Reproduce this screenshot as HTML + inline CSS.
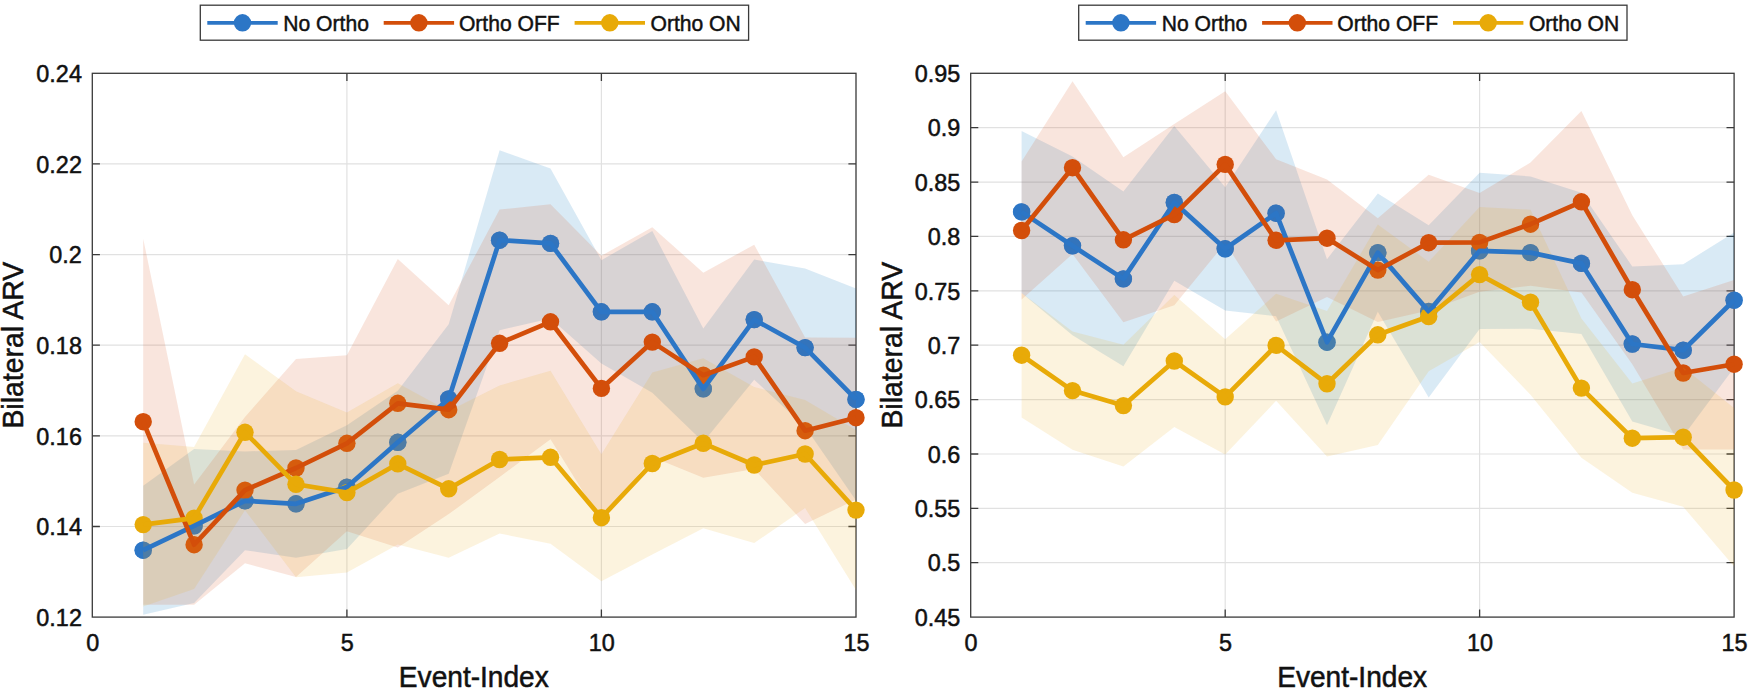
<!DOCTYPE html>
<html lang="en">
<head>
<meta charset="utf-8">
<title>Bilateral ARV vs Event-Index</title>
<style>
html,body{margin:0;padding:0;background:#fff;}
body{width:1752px;height:691px;overflow:hidden;}
svg{display:block;font-family:"Liberation Sans",Arial,Helvetica,sans-serif;}
</style>
</head>
<body>
<svg width="1752" height="691" viewBox="0 0 1752 691">
<rect width="1752" height="691" fill="#fff"/>
<path d="M346.9 73.3V617.1M601.4 73.3V617.1M92.3 163.9H856M92.3 254.6H856M92.3 345.2H856M92.3 435.8H856M92.3 526.5H856" stroke="#e1e1e1" stroke-width="1.2" fill="none"/>
<rect x="92.3" y="73.3" width="763.7" height="543.8" fill="none" stroke="#3a3a3a" stroke-width="1.3"/>
<path d="M346.9 617.1v-7.6M346.9 73.3v7.6M601.4 617.1v-7.6M601.4 73.3v7.6M92.3 163.9h7.6M856 163.9h-7.6M92.3 254.6h7.6M856 254.6h-7.6M92.3 345.2h7.6M856 345.2h-7.6M92.3 435.8h7.6M856 435.8h-7.6M92.3 526.5h7.6M856 526.5h-7.6" stroke="#3a3a3a" stroke-width="1.3" fill="none"/>
<g fill="#2c76c6"><circle cx="143.2" cy="550.2" r="8.7"/><circle cx="194.1" cy="525.9" r="8.7"/><circle cx="245" cy="500.8" r="8.7"/><circle cx="296" cy="503.8" r="8.7"/><circle cx="346.9" cy="487.1" r="8.7"/><circle cx="397.8" cy="442.3" r="8.7"/><circle cx="448.7" cy="399" r="8.7"/><circle cx="499.6" cy="240.2" r="8.7"/><circle cx="550.5" cy="243.4" r="8.7"/><circle cx="601.4" cy="311.8" r="8.7"/><circle cx="652.3" cy="311.8" r="8.7"/><circle cx="703.3" cy="388.9" r="8.7"/><circle cx="754.2" cy="319.6" r="8.7"/><circle cx="805.1" cy="347.6" r="8.7"/><circle cx="856" cy="399.4" r="8.7"/></g>
<polygon points="143.2 485.7 194.1 448.9 245 451.4 296 449.9 346.9 425.3 397.8 390.8 448.7 324.2 499.6 150.2 550.5 168.4 601.4 260.2 652.3 230.9 703.3 328.5 754.2 259.5 805.1 268.5 856 288.4 856 500.5 805.1 426.7 754.2 379.7 703.3 441.9 652.3 392.7 601.4 363.4 550.5 318.4 499.6 330.2 448.7 473.8 397.8 493.8 346.9 548.9 296 557.7 245 550.2 194.1 602.9 143.2 614.7" fill="#0072bd" fill-opacity="0.15"/>
<polygon points="143.2 238.7 194.1 484.6 245 417 296 359 346.9 355.3 397.8 259 448.7 305.3 499.6 209.6 550.5 204.3 601.4 255.7 652.3 227.2 703.3 272.7 754.2 244.7 805.1 337.5 856 337.7 856 499.5 805.1 523.9 754.2 469.1 703.3 477.7 652.3 457 601.4 521.1 550.5 439.3 499.6 477 448.7 514.1 397.8 547.6 346.9 531.3 296 577 245 563.2 194.1 604.8 143.2 604.7" fill="#d95319" fill-opacity="0.15"/>
<g fill="#2c76c6" fill-opacity="0.65"><circle cx="143.2" cy="550.2" r="8.7"/><circle cx="194.1" cy="525.9" r="8.7"/><circle cx="245" cy="500.8" r="8.7"/><circle cx="296" cy="503.8" r="8.7"/><circle cx="346.9" cy="487.1" r="8.7"/><circle cx="397.8" cy="442.3" r="8.7"/><circle cx="448.7" cy="399" r="8.7"/><circle cx="499.6" cy="240.2" r="8.7"/><circle cx="550.5" cy="243.4" r="8.7"/><circle cx="601.4" cy="311.8" r="8.7"/><circle cx="652.3" cy="311.8" r="8.7"/><circle cx="703.3" cy="388.9" r="8.7"/><circle cx="754.2" cy="319.6" r="8.7"/><circle cx="805.1" cy="347.6" r="8.7"/><circle cx="856" cy="399.4" r="8.7"/></g>
<g fill="#d34e0a"><circle cx="143.2" cy="421.7" r="8.7"/><circle cx="194.1" cy="544.7" r="8.7"/><circle cx="245" cy="490.1" r="8.7"/><circle cx="296" cy="468" r="8.7"/><circle cx="346.9" cy="443.3" r="8.7"/><circle cx="397.8" cy="403.3" r="8.7"/><circle cx="448.7" cy="409.7" r="8.7"/><circle cx="499.6" cy="343.3" r="8.7"/><circle cx="550.5" cy="321.8" r="8.7"/><circle cx="601.4" cy="388.4" r="8.7"/><circle cx="652.3" cy="342.1" r="8.7"/><circle cx="703.3" cy="375.2" r="8.7"/><circle cx="754.2" cy="356.9" r="8.7"/><circle cx="805.1" cy="430.7" r="8.7"/><circle cx="856" cy="417.7" r="8.7"/></g>
<polygon points="143.2 442.8 194.1 447.1 245 354.3 296 391.3 346.9 412.6 397.8 383.2 448.7 411 499.6 385.5 550.5 370.8 601.4 454.2 652.3 372.5 703.3 358.3 754.2 387 805.1 400 856 430.1 856 590.1 805.1 508 754.2 543 703.3 528.3 652.3 554.5 601.4 581.2 550.5 543.8 499.6 533.5 448.7 557.8 397.8 544.4 346.9 572.6 296 577.3 245 510.3 194.1 589.1 143.2 606.4" fill="#edb120" fill-opacity="0.15"/>
<g fill="#e8aa08"><circle cx="143.2" cy="524.6" r="8.7"/><circle cx="194.1" cy="518.1" r="8.7"/><circle cx="245" cy="432.3" r="8.7"/><circle cx="296" cy="484.3" r="8.7"/><circle cx="346.9" cy="492.6" r="8.7"/><circle cx="397.8" cy="463.8" r="8.7"/><circle cx="448.7" cy="488.8" r="8.7"/><circle cx="499.6" cy="459.5" r="8.7"/><circle cx="550.5" cy="457.3" r="8.7"/><circle cx="601.4" cy="517.7" r="8.7"/><circle cx="652.3" cy="463.5" r="8.7"/><circle cx="703.3" cy="443.3" r="8.7"/><circle cx="754.2" cy="465" r="8.7"/><circle cx="805.1" cy="454" r="8.7"/><circle cx="856" cy="510.1" r="8.7"/></g>
<polyline points="143.2 550.2 194.1 525.9 245 500.8 296 503.8 346.9 487.1 397.8 442.3 448.7 399 499.6 240.2 550.5 243.4 601.4 311.8 652.3 311.8 703.3 388.9 754.2 319.6 805.1 347.6 856 399.4" fill="none" stroke="#2c76c6" stroke-width="4.7" stroke-linejoin="round"/>
<polyline points="143.2 421.7 194.1 544.7 245 490.1 296 468 346.9 443.3 397.8 403.3 448.7 409.7 499.6 343.3 550.5 321.8 601.4 388.4 652.3 342.1 703.3 375.2 754.2 356.9 805.1 430.7 856 417.7" fill="none" stroke="#d34e0a" stroke-width="4.7" stroke-linejoin="round"/>
<polyline points="143.2 524.6 194.1 518.1 245 432.3 296 484.3 346.9 492.6 397.8 463.8 448.7 488.8 499.6 459.5 550.5 457.3 601.4 517.7 652.3 463.5 703.3 443.3 754.2 465 805.1 454 856 510.1" fill="none" stroke="#e8aa08" stroke-width="4.7" stroke-linejoin="round"/>
<g font-size="23.4" fill="#111" stroke="#111" stroke-width="0.5">
<text x="92.7" y="650.7" text-anchor="middle">0</text>
<text x="347.3" y="650.7" text-anchor="middle">5</text>
<text x="601.8" y="650.7" text-anchor="middle">10</text>
<text x="856.4" y="650.7" text-anchor="middle">15</text>
<text x="81.9" y="82" text-anchor="end">0.24</text>
<text x="81.9" y="172.6" text-anchor="end">0.22</text>
<text x="81.9" y="263.3" text-anchor="end">0.2</text>
<text x="81.9" y="353.9" text-anchor="end">0.18</text>
<text x="81.9" y="444.5" text-anchor="end">0.16</text>
<text x="81.9" y="535.2" text-anchor="end">0.14</text>
<text x="81.9" y="625.8" text-anchor="end">0.12</text>
</g>
<text transform="translate(473.8 687.2) scale(1 1.03)" font-size="28.1" text-anchor="middle" fill="#111" stroke="#111" stroke-width="0.5">Event-Index</text>
<text transform="translate(22.9 345.2) rotate(-90) scale(1 1.04)" font-size="28.4" text-anchor="middle" fill="#111" stroke="#111" stroke-width="0.5">Bilateral ARV</text>
<rect x="200.3"  y="5.2" width="548.3" height="35" fill="#fff" stroke="#3a3a3a" stroke-width="1.3"/>
<path d="M207.3 22.8h70.4" stroke="#2c76c6" stroke-width="3.7"/>
<circle cx="242.5" cy="22.8" r="8.7" fill="#2c76c6"/>
<text transform="translate(283.3 31.1) scale(1 1.03)" font-size="21.1" fill="#111" stroke="#111" stroke-width="0.45">No Ortho</text>
<path d="M383.7 22.8h70.4" stroke="#d34e0a" stroke-width="3.7"/>
<circle cx="418.9" cy="22.8" r="8.7" fill="#d34e0a"/>
<text transform="translate(458.9 31.1) scale(1 1.03)" font-size="21.1" fill="#111" stroke="#111" stroke-width="0.45">Ortho OFF</text>
<path d="M574.6 22.8h70.4" stroke="#e8aa08" stroke-width="3.7"/>
<circle cx="609.8" cy="22.8" r="8.7" fill="#e8aa08"/>
<text transform="translate(650.5 31.1) scale(1 1.03)" font-size="21.1" fill="#111" stroke="#111" stroke-width="0.45">Ortho ON</text>
<path d="M1225.2 73.3V617.1M1479.6 73.3V617.1M970.7 127.7H1734.1M970.7 182.1H1734.1M970.7 236.4H1734.1M970.7 290.8H1734.1M970.7 345.2H1734.1M970.7 399.6H1734.1M970.7 454H1734.1M970.7 508.3H1734.1M970.7 562.7H1734.1" stroke="#e1e1e1" stroke-width="1.2" fill="none"/>
<rect x="970.7" y="73.3" width="763.4" height="543.8" fill="none" stroke="#3a3a3a" stroke-width="1.3"/>
<path d="M1225.2 617.1v-7.6M1225.2 73.3v7.6M1479.6 617.1v-7.6M1479.6 73.3v7.6M970.7 127.7h7.6M1734.1 127.7h-7.6M970.7 182.1h7.6M1734.1 182.1h-7.6M970.7 236.4h7.6M1734.1 236.4h-7.6M970.7 290.8h7.6M1734.1 290.8h-7.6M970.7 345.2h7.6M1734.1 345.2h-7.6M970.7 399.6h7.6M1734.1 399.6h-7.6M970.7 454h7.6M1734.1 454h-7.6M970.7 508.3h7.6M1734.1 508.3h-7.6M970.7 562.7h7.6M1734.1 562.7h-7.6" stroke="#3a3a3a" stroke-width="1.3" fill="none"/>
<g fill="#2c76c6"><circle cx="1021.6" cy="211.9" r="8.7"/><circle cx="1072.5" cy="245.8" r="8.7"/><circle cx="1123.4" cy="278.9" r="8.7"/><circle cx="1174.3" cy="202.5" r="8.7"/><circle cx="1225.2" cy="248.8" r="8.7"/><circle cx="1276.1" cy="213.2" r="8.7"/><circle cx="1327" cy="342.2" r="8.7"/><circle cx="1377.8" cy="252.6" r="8.7"/><circle cx="1428.7" cy="311.4" r="8.7"/><circle cx="1479.6" cy="250.8" r="8.7"/><circle cx="1530.5" cy="252.6" r="8.7"/><circle cx="1581.4" cy="263.4" r="8.7"/><circle cx="1632.3" cy="344" r="8.7"/><circle cx="1683.2" cy="350.2" r="8.7"/><circle cx="1734.1" cy="300.2" r="8.7"/></g>
<polygon points="1021.6 130.9 1072.5 156.4 1123.4 191.5 1174.3 126 1225.2 187.2 1276.1 110.2 1327 259.2 1377.8 193.5 1428.7 225.3 1479.6 172.7 1530.5 176.4 1581.4 192.7 1632.3 266.4 1683.2 264.2 1734.1 232.6 1734.1 367.8 1683.2 436.2 1632.3 421.6 1581.4 334.1 1530.5 328.8 1479.6 328.9 1428.7 397.5 1377.8 311.7 1327 425.2 1276.1 316.2 1225.2 310.4 1174.3 280.8 1123.4 366.3 1072.5 335.2 1021.6 292.9" fill="#0072bd" fill-opacity="0.15"/>
<polygon points="1021.6 161.4 1072.5 81.3 1123.4 157.3 1174.3 123.9 1225.2 91.3 1276.1 159.2 1327 179.5 1377.8 218.3 1428.7 174.8 1479.6 193 1530.5 162.6 1581.4 111.1 1632.3 215.2 1683.2 296.5 1734.1 280 1734.1 449.5 1683.2 449.5 1632.3 364.2 1581.4 292.5 1530.5 285.8 1479.6 291.8 1428.7 310.6 1377.8 321.9 1327 296.9 1276.1 321.4 1225.2 243 1174.3 305.3 1123.4 322.3 1072.5 254.1 1021.6 299.6" fill="#d95319" fill-opacity="0.15"/>
<g fill="#2c76c6" fill-opacity="0.65"><circle cx="1021.6" cy="211.9" r="8.7"/><circle cx="1072.5" cy="245.8" r="8.7"/><circle cx="1123.4" cy="278.9" r="8.7"/><circle cx="1174.3" cy="202.5" r="8.7"/><circle cx="1225.2" cy="248.8" r="8.7"/><circle cx="1276.1" cy="213.2" r="8.7"/><circle cx="1327" cy="342.2" r="8.7"/><circle cx="1377.8" cy="252.6" r="8.7"/><circle cx="1428.7" cy="311.4" r="8.7"/><circle cx="1479.6" cy="250.8" r="8.7"/><circle cx="1530.5" cy="252.6" r="8.7"/><circle cx="1581.4" cy="263.4" r="8.7"/><circle cx="1632.3" cy="344" r="8.7"/><circle cx="1683.2" cy="350.2" r="8.7"/><circle cx="1734.1" cy="300.2" r="8.7"/></g>
<g fill="#d34e0a"><circle cx="1021.6" cy="230.5" r="8.7"/><circle cx="1072.5" cy="167.7" r="8.7"/><circle cx="1123.4" cy="239.8" r="8.7"/><circle cx="1174.3" cy="214.6" r="8.7"/><circle cx="1225.2" cy="164.4" r="8.7"/><circle cx="1276.1" cy="240.3" r="8.7"/><circle cx="1327" cy="238.2" r="8.7"/><circle cx="1377.8" cy="270.1" r="8.7"/><circle cx="1428.7" cy="242.7" r="8.7"/><circle cx="1479.6" cy="242.4" r="8.7"/><circle cx="1530.5" cy="224.2" r="8.7"/><circle cx="1581.4" cy="201.8" r="8.7"/><circle cx="1632.3" cy="289.7" r="8.7"/><circle cx="1683.2" cy="373" r="8.7"/><circle cx="1734.1" cy="364.2" r="8.7"/></g>
<polygon points="1021.6 293 1072.5 331.5 1123.4 344.7 1174.3 295 1225.2 339.3 1276.1 293.8 1327 311.1 1377.8 224.6 1428.7 261.7 1479.6 207.1 1530.5 209.7 1581.4 318.5 1632.3 383.6 1683.2 367.6 1734.1 408 1734.1 566.6 1683.2 506.8 1632.3 492.8 1581.4 457.7 1530.5 394.7 1479.6 342.1 1428.7 371.3 1377.8 445 1327 456.5 1276.1 400.8 1225.2 454.5 1174.3 427 1123.4 466.5 1072.5 449.7 1021.6 417.4" fill="#edb120" fill-opacity="0.15"/>
<g fill="#e8aa08"><circle cx="1021.6" cy="355.2" r="8.7"/><circle cx="1072.5" cy="390.6" r="8.7"/><circle cx="1123.4" cy="405.6" r="8.7"/><circle cx="1174.3" cy="361" r="8.7"/><circle cx="1225.2" cy="396.9" r="8.7"/><circle cx="1276.1" cy="345.4" r="8.7"/><circle cx="1327" cy="383.8" r="8.7"/><circle cx="1377.8" cy="334.8" r="8.7"/><circle cx="1428.7" cy="316.5" r="8.7"/><circle cx="1479.6" cy="274.6" r="8.7"/><circle cx="1530.5" cy="302.2" r="8.7"/><circle cx="1581.4" cy="388.1" r="8.7"/><circle cx="1632.3" cy="438.2" r="8.7"/><circle cx="1683.2" cy="437.2" r="8.7"/><circle cx="1734.1" cy="490" r="8.7"/></g>
<polyline points="1021.6 211.9 1072.5 245.8 1123.4 278.9 1174.3 202.5 1225.2 248.8 1276.1 213.2 1327 342.2 1377.8 252.6 1428.7 311.4 1479.6 250.8 1530.5 252.6 1581.4 263.4 1632.3 344 1683.2 350.2 1734.1 300.2" fill="none" stroke="#2c76c6" stroke-width="4.7" stroke-linejoin="round"/>
<polyline points="1021.6 230.5 1072.5 167.7 1123.4 239.8 1174.3 214.6 1225.2 164.4 1276.1 240.3 1327 238.2 1377.8 270.1 1428.7 242.7 1479.6 242.4 1530.5 224.2 1581.4 201.8 1632.3 289.7 1683.2 373 1734.1 364.2" fill="none" stroke="#d34e0a" stroke-width="4.7" stroke-linejoin="round"/>
<polyline points="1021.6 355.2 1072.5 390.6 1123.4 405.6 1174.3 361 1225.2 396.9 1276.1 345.4 1327 383.8 1377.8 334.8 1428.7 316.5 1479.6 274.6 1530.5 302.2 1581.4 388.1 1632.3 438.2 1683.2 437.2 1734.1 490" fill="none" stroke="#e8aa08" stroke-width="4.7" stroke-linejoin="round"/>
<g font-size="23.4" fill="#111" stroke="#111" stroke-width="0.5">
<text x="971.1" y="650.7" text-anchor="middle">0</text>
<text x="1225.6" y="650.7" text-anchor="middle">5</text>
<text x="1480" y="650.7" text-anchor="middle">10</text>
<text x="1734.5" y="650.7" text-anchor="middle">15</text>
<text x="960.3" y="82" text-anchor="end">0.95</text>
<text x="960.3" y="136.4" text-anchor="end">0.9</text>
<text x="960.3" y="190.8" text-anchor="end">0.85</text>
<text x="960.3" y="245.1" text-anchor="end">0.8</text>
<text x="960.3" y="299.5" text-anchor="end">0.75</text>
<text x="960.3" y="353.9" text-anchor="end">0.7</text>
<text x="960.3" y="408.3" text-anchor="end">0.65</text>
<text x="960.3" y="462.7" text-anchor="end">0.6</text>
<text x="960.3" y="517" text-anchor="end">0.55</text>
<text x="960.3" y="571.4" text-anchor="end">0.5</text>
<text x="960.3" y="625.8" text-anchor="end">0.45</text>
</g>
<text transform="translate(1352.1 687.2) scale(1 1.03)" font-size="28.1" text-anchor="middle" fill="#111" stroke="#111" stroke-width="0.5">Event-Index</text>
<text transform="translate(901.9 345.2) rotate(-90) scale(1 1.04)" font-size="28.4" text-anchor="middle" fill="#111" stroke="#111" stroke-width="0.5">Bilateral ARV</text>
<rect x="1078.7"  y="5.2" width="548.3" height="35" fill="#fff" stroke="#3a3a3a" stroke-width="1.3"/>
<path d="M1085.7 22.8h70.4" stroke="#2c76c6" stroke-width="3.7"/>
<circle cx="1120.9" cy="22.8" r="8.7" fill="#2c76c6"/>
<text transform="translate(1161.7 31.1) scale(1 1.03)" font-size="21.1" fill="#111" stroke="#111" stroke-width="0.45">No Ortho</text>
<path d="M1262.1 22.8h70.4" stroke="#d34e0a" stroke-width="3.7"/>
<circle cx="1297.3" cy="22.8" r="8.7" fill="#d34e0a"/>
<text transform="translate(1337.3 31.1) scale(1 1.03)" font-size="21.1" fill="#111" stroke="#111" stroke-width="0.45">Ortho OFF</text>
<path d="M1453 22.8h70.4" stroke="#e8aa08" stroke-width="3.7"/>
<circle cx="1488.2" cy="22.8" r="8.7" fill="#e8aa08"/>
<text transform="translate(1528.9 31.1) scale(1 1.03)" font-size="21.1" fill="#111" stroke="#111" stroke-width="0.45">Ortho ON</text>
</svg>
</body>
</html>
